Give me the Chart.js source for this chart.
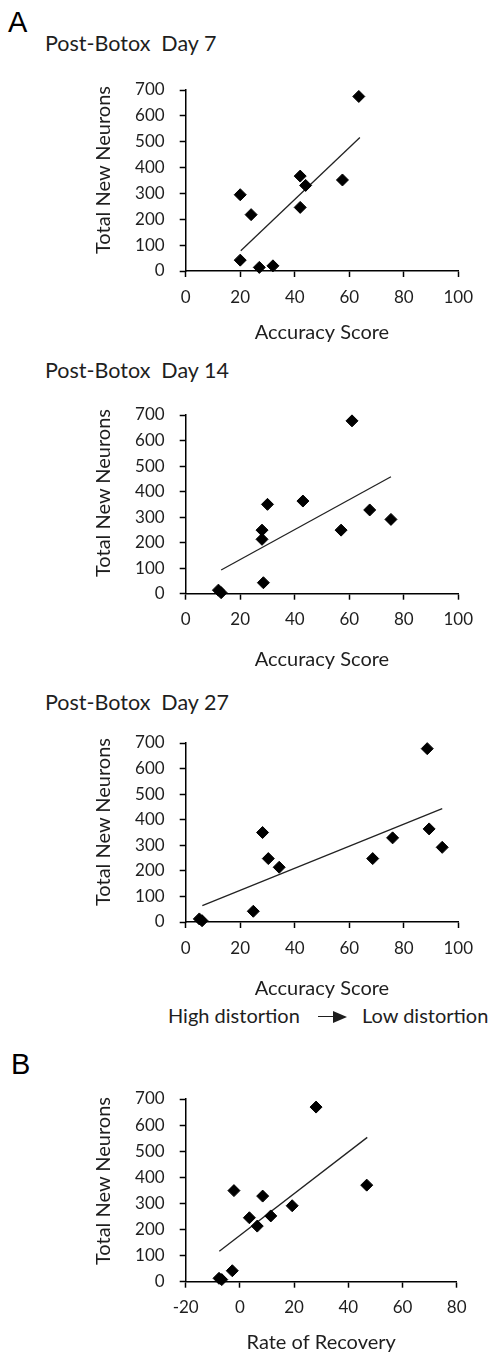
<!DOCTYPE html>
<html>
<head>
<meta charset="utf-8">
<script src="https://cdn.jsdelivr.net/npm/chart.js@4"></script>
<style>
html,body{margin:0;padding:0;background:#fff;}
body{width:490px;height:1356px;position:relative;overflow:hidden;font-family:Lato,sans-serif;color:#1e1e1e;}
.abs{position:absolute;white-space:nowrap;}
.letter{font-family:"Liberation Sans",Arial,sans-serif;font-size:29px;line-height:29px;color:#000;}
.ptitle{font-size:21.5px;line-height:21.5px;}
.ytitle{font-size:20px;line-height:24px;width:300px;text-align:center;transform:rotate(-90deg);transform-origin:50% 50%;will-change:transform;-webkit-font-smoothing:antialiased;}
.note{font-size:20px;line-height:20px;}
.arrow{position:absolute;height:0;border-top:1.6px solid #1e1e1e;}
.arrowhead{position:absolute;width:0;height:0;border-top:6px solid transparent;border-bottom:6px solid transparent;border-left:14px solid #1e1e1e;}
canvas{position:absolute;left:0;}
</style>
</head>
<body>
<div class="abs letter" style="left:8px;top:8px;">A</div>
<div class="abs letter" style="left:11px;top:1050px;">B</div>

<div class="abs ptitle" style="left:45px;top:33px;">Post-Botox&nbsp; Day 7</div>
<div class="abs ptitle" style="left:45px;top:360px;">Post-Botox&nbsp; Day 14</div>
<div class="abs ptitle" style="left:45px;top:692px;">Post-Botox&nbsp; Day 27</div>

<div class="abs ytitle" style="left:-48px;top:158px;">Total New Neurons</div>
<div class="abs ytitle" style="left:-48px;top:481px;">Total New Neurons</div>
<div class="abs ytitle" style="left:-48px;top:810px;">Total New Neurons</div>
<div class="abs ytitle" style="left:-48px;top:1169px;">Total New Neurons</div>

<div class="abs note" style="left:168px;top:1005px;">High distortion</div>
<div class="arrow" style="left:318px;top:1016px;width:18px;"></div>
<div class="arrowhead" style="left:333px;top:1011px;"></div>
<div class="abs note" style="left:362px;top:1005px;">Low distortion</div>

<canvas id="c1"></canvas>
<canvas id="c2"></canvas>
<canvas id="c3"></canvas>
<canvas id="c4"></canvas>

<script>
// ---- data ----
const accuracyTicks = [0, 20, 40, 60, 80, 100];
const recoveryTicks = [-20, 0, 20, 40, 60, 80];
const neuronTicks = [0, 100, 200, 300, 400, 500, 600, 700];

const day7Accuracy = [20, 24, 20, 27, 32, 42, 42, 44, 57.5, 63.5];
const day7Neurons  = [295, 218, 42, 14, 20, 246, 367, 331, 352, 675];
const day7TrendX = [20.2, 63.9];
const day7TrendY = [78, 516];

const day14Accuracy = [12, 13, 28, 28, 28.5, 30, 43, 57, 61, 67.5, 75.3];
const day14Neurons  = [14, 4, 249, 213, 43, 350, 363, 249, 677, 328, 291];
const day14TrendX = [13, 75.3];
const day14TrendY = [93, 458];

const day27Accuracy = [5, 6, 24.8, 28.2, 30.3, 34.3, 68.6, 75.9, 88.6, 89.3, 94.1];
const day27Neurons  = [12, 5, 42, 350, 248, 214, 248, 329, 678, 364, 292];
const day27TrendX = [6.1, 94.1];
const day27TrendY = [64, 443];

const recoveryRate    = [-7.7, -6.7, -2.8, -2.2, 3.5, 6.4, 8.4, 11.4, 19.3, 28.1, 46.8];
const recoveryNeurons = [13, 8, 42, 349, 245, 213, 328, 252, 291, 669, 370];
const recoveryTrendX = [-7.6, 47];
const recoveryTrendY = [117, 553];

// ---- layout (pixel geometry of each panel) ----
const panels = [
  {id:'c1', xs:day7Accuracy, ys:day7Neurons, tx:day7TrendX, ty:day7TrendY, xTicks:accuracyTicks, xTitle:'Accuracy Score',
   plotTop:90, plotBottom:271, plotLeft:185.7, plotRight:458.3, titleMid:333},
  {id:'c2', xs:day14Accuracy, ys:day14Neurons, tx:day14TrendX, ty:day14TrendY, xTicks:accuracyTicks, xTitle:'Accuracy Score',
   plotTop:415, plotBottom:593.7, plotLeft:185.7, plotRight:458.3, titleMid:660},
  {id:'c3', xs:day27Accuracy, ys:day27Neurons, tx:day27TrendX, ty:day27TrendY, xTicks:accuracyTicks, xTitle:'Accuracy Score',
   plotTop:743.3, plotBottom:922.3, plotLeft:185.7, plotRight:458.3, titleMid:989},
  {id:'c4', xs:recoveryRate, ys:recoveryNeurons, tx:recoveryTrendX, ty:recoveryTrendY, xTicks:recoveryTicks, xTitle:'Rate of Recovery',
   plotTop:1099, plotBottom:1281.7, plotLeft:185.7, plotRight:456.7, titleMid:1343}
];

const TEXT = '#1e1e1e';
const tickFont = {family:'Lato', size:17, lineHeight:1.2};
const titleFont = {family:'Lato', size:20, lineHeight:1.2};

function pairs(xs, ys){ return xs.map((x,i)=>({x:x, y:ys[i]})); }

panels.forEach(p => {
  const cv = document.getElementById(p.id);
  const topPad = 30;
  const canvasTop = p.plotTop - topPad;
  const titleLH = titleFont.size * titleFont.lineHeight;
  const canvasBottom = p.titleMid + titleLH/2;
  const h = Math.round(canvasBottom - canvasTop);
  cv.width = 490; cv.height = h;
  cv.style.top = canvasTop + 'px';
  cv.style.width = '490px'; cv.style.height = h + 'px';
  const xScaleH = h - topPad - (p.plotBottom - p.plotTop);

  new Chart(cv, {
    type: 'scatter',
    data: {
      datasets: [
        {
          data: pairs(p.xs, p.ys),
          pointStyle: 'rectRot',
          pointRadius: 6,
          pointBorderWidth: 1,
          backgroundColor: '#000',
          borderColor: '#000',
          clip: false
        },
        {
          data: pairs(p.tx, p.ty),
          showLine: true,
          pointRadius: 0,
          borderColor: '#222',
          borderWidth: 1.3,
          clip: false
        }
      ]
    },
    options: {
      responsive: false,
      animation: false,
      devicePixelRatio: 1,
      layout: {padding: {top: topPad, left: 0, right: 490 - p.plotRight, bottom: 0}},
      plugins: {legend: {display: false}, tooltip: {enabled: false}},
      scales: {
        x: {
          type: 'linear',
          min: p.xTicks[0], max: p.xTicks[p.xTicks.length-1],
          afterBuildTicks: s => { s.ticks = p.xTicks.map(v => ({value: v})); },
          afterFit: s => { s.height = xScaleH; },
          grid: {display: true, drawOnChartArea: false, drawTicks: true, tickLength: 6, tickColor: '#000', tickWidth: 1.5, color: '#000'},
          border: {display: true, color: '#000', width: 1.5},
          ticks: {color: TEXT, font: tickFont, padding: 10, maxRotation: 0, autoSkip: false},
          title: {display: true, text: p.xTitle, color: TEXT, font: titleFont, padding: {top: 0, bottom: 0}}
        },
        y: {
          type: 'linear',
          min: 0, max: 700,
          afterBuildTicks: s => { s.ticks = neuronTicks.map(v => ({value: v})); },
          afterFit: s => { s.width = p.plotLeft; },
          grid: {display: true, drawOnChartArea: false, drawTicks: true, tickLength: 6, tickColor: '#000', tickWidth: 1.5, color: '#000'},
          border: {display: true, color: '#000', width: 1.5},
          ticks: {color: TEXT, font: tickFont, padding: 15, autoSkip: false}
        }
      }
    }
  });
});
</script>
</body>
</html>
